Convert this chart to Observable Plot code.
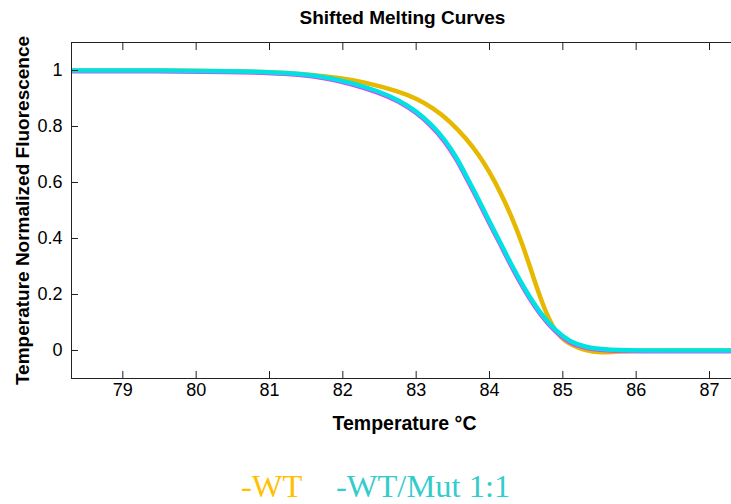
<!DOCTYPE html>
<html>
<head>
<meta charset="utf-8">
<script src="https://cdn.jsdelivr.net/npm/d3@7"></script>
<script src="https://cdn.jsdelivr.net/npm/@observablehq/plot@0.6"></script>
<style>
  body { margin: 0; background: #fff; }
  #wrap { position: relative; width: 731px; height: 504px; font-family: "Liberation Sans", Arial, sans-serif; }
  #title { height: 36px; line-height: 36px; font-weight: bold; font-size: 19px; text-align: center; padding-left: 74px; box-sizing: border-box; width: 731px; color: #000; }
  #legend { position: absolute; left: 0; top: 468px; width: 731px; font-family: "Liberation Serif", "Times New Roman", serif; font-size: 32.5px; }
  #legend span { position: absolute; top: 0; white-space: nowrap; }
</style>
</head>
<body>
<div id="wrap">
  <div id="title">Shifted Melting Curves</div>
  <div id="chart"></div>
  <div id="legend"></div>
</div>
<script>
// Data
const xDomain = [78.3, 87.3];
const yDomain = [-0.1, 1.1];
const xTicks = [79, 80, 81, 82, 83, 84, 85, 86, 87];
const yTicks = [0, 0.2, 0.4, 0.6, 0.8, 1];
const seriesNames = ["-WT", "-WT/Mut 1:1"];

const wtT = [78.3, 80.0, 81.0, 81.5, 82.0, 82.3, 82.77, 83.0, 83.22, 83.45, 83.69, 83.85, 84.0, 84.14, 84.3, 84.45, 84.6, 84.75, 84.9, 85.05, 85.23, 85.4, 85.6, 85.8, 86.0, 87.3];
const wtF = [1.0, 1.0, 0.995, 0.987, 0.972, 0.958, 0.925, 0.9, 0.868, 0.822, 0.755, 0.70, 0.638, 0.57, 0.48, 0.38, 0.26, 0.145, 0.065, 0.028, 0.007, -0.006, -0.007, -0.003, 0.0, 0.0];

const mixT = [78.3, 79.5, 80.5, 81.0, 81.4, 81.8, 82.1, 82.5, 82.77, 83.0, 83.22, 83.4, 83.55, 83.7, 83.85, 84.0, 84.15, 84.3, 84.5, 84.7, 84.9, 85.1, 85.3, 85.6, 86.0, 87.3];
const mixF = [1.0, 1.0, 0.998, 0.994, 0.989, 0.975, 0.957, 0.925, 0.893, 0.855, 0.805, 0.75, 0.69, 0.615, 0.54, 0.46, 0.385, 0.305, 0.21, 0.13, 0.07, 0.03, 0.012, 0.002, 0.0, 0.0];

const lineColors = ["#e6b800", "#00e2e2"];
const legendColors = ["#ffc000", "#33cccc"];

const wt = wtT.map((t, i) => ({t, f: wtF[i]}));
const mix = mixT.map((t, i) => ({t, f: mixF[i]}));

const axisColor = "#222";

const plot = Plot.plot({
  width: 731,
  height: 404,
  marginTop: 6,
  marginLeft: 71,
  marginRight: 0,
  marginBottom: 62,
  style: {fontFamily: "Liberation Sans, Arial, sans-serif", color: "#000", background: "#fff", overflow: "visible"},
  x: {domain: xDomain},
  y: {domain: yDomain},
  marks: [
    Plot.line(wt, {x: "t", y: "f", stroke: lineColors[0], strokeWidth: 4.5, curve: "basis", clip: true}),
    Plot.line(mix, {x: "t", y: "f", stroke: "#e040fb", strokeWidth: 3, dx: -1, dy: 1.5, curve: "basis", clip: true}),
    Plot.line(mix, {x: "t", y: "f", stroke: lineColors[1], strokeWidth: 4.5, curve: "basis", clip: true}),
    Plot.ruleX([xDomain[0]], {stroke: axisColor}),
    Plot.ruleY(yDomain, {stroke: axisColor}),
    Plot.axisX(xTicks, {anchor: "bottom", tickSize: -7, text: null, stroke: axisColor, label: null}),
    Plot.axisX(xTicks, {anchor: "top", tickSize: -7, text: null, stroke: axisColor, label: null}),
    Plot.axisY(yTicks, {anchor: "left", tickSize: -7, text: null, stroke: axisColor, label: null}),
    Plot.axisX(xTicks, {anchor: "bottom", tickSize: 0, tickPadding: 5, fontSize: 18, label: null}),
    Plot.axisY(yTicks, {anchor: "left", tickSize: 0, tickPadding: 9, fontSize: 18, label: null, tickFormat: d => String(d)}),
    Plot.text(["Temperature °C"], {frameAnchor: "bottom", dy: 51, dx: 3, fontSize: 19.5, fontWeight: "bold", fill: "#000"}),
    Plot.text(["Temperature Normalized Fluorescence"], {frameAnchor: "left", textAnchor: "middle", rotate: -90, dx: -49, fontSize: 19, fontWeight: "bold", fill: "#000"})
  ]
});
document.getElementById("chart").appendChild(plot);

const legend = document.getElementById("legend");
const legendLeft = [241, 336];
seriesNames.forEach((name, i) => {
  const s = document.createElement("span");
  s.textContent = name;
  s.style.color = legendColors[i];
  s.style.left = legendLeft[i] + "px";
  legend.appendChild(s);
});
</script>
</body>
</html>
